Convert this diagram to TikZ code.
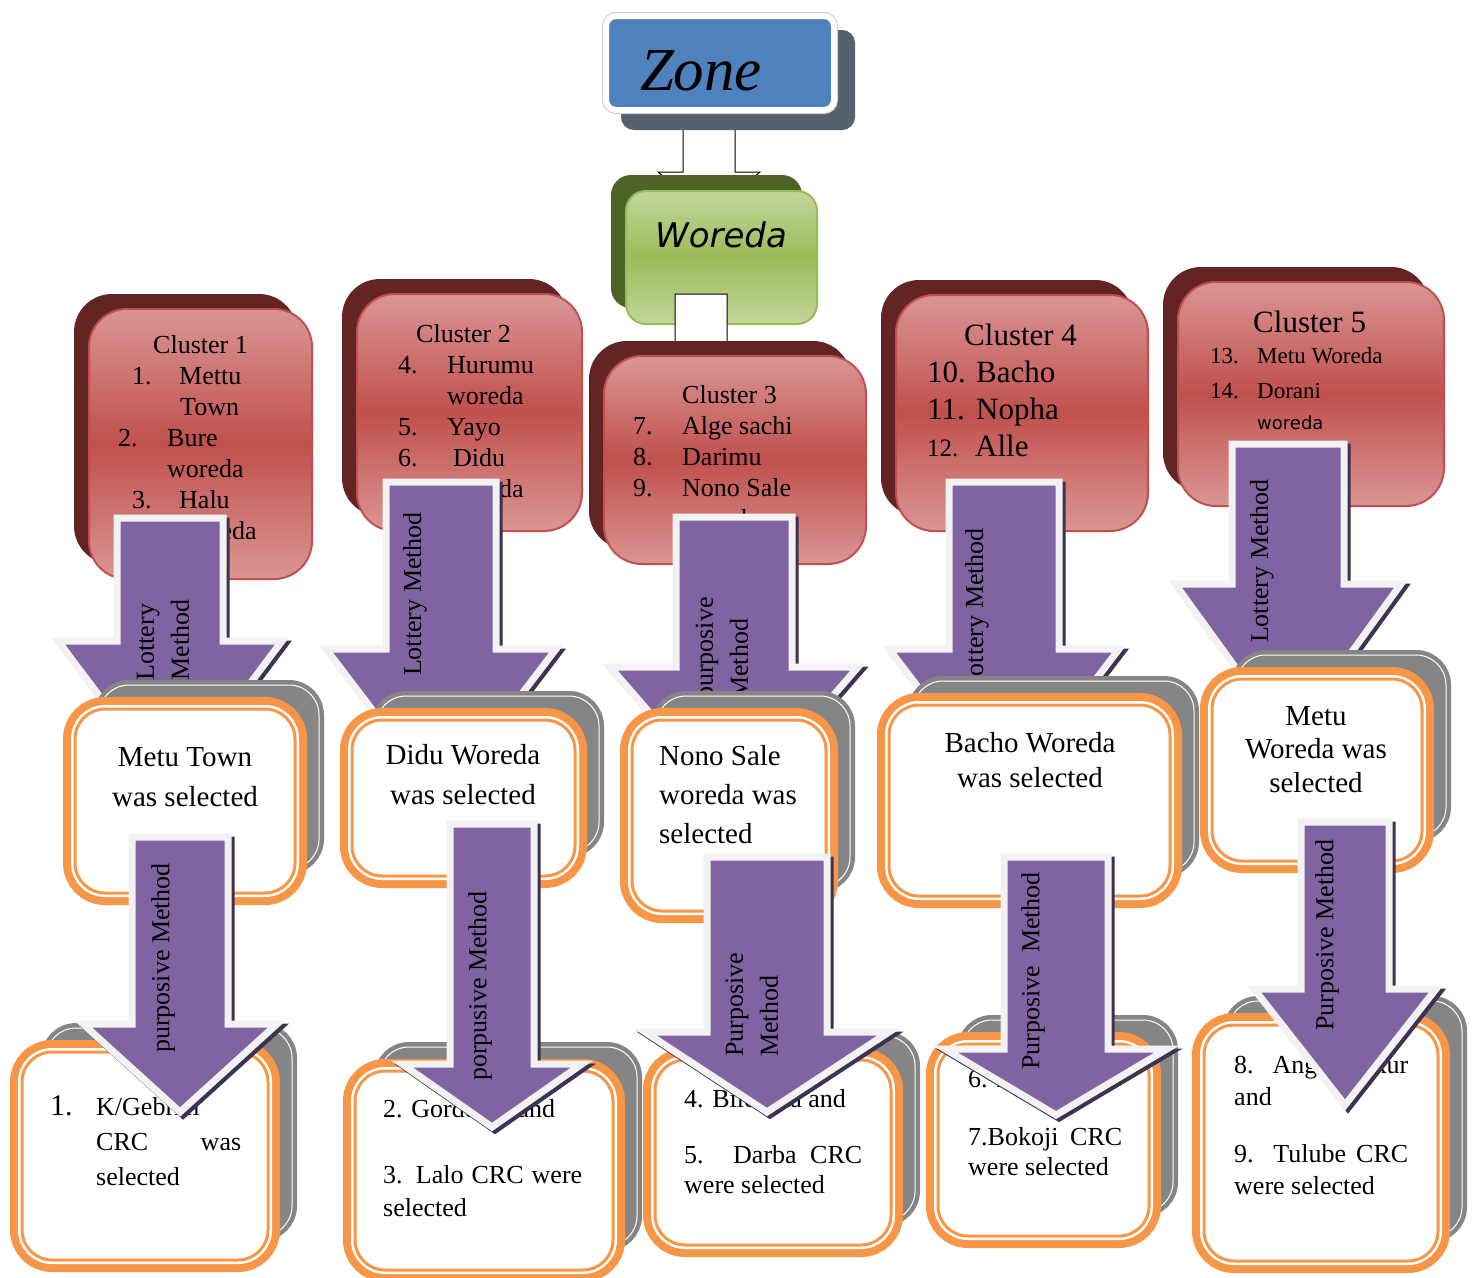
\documentclass[tikz,border=0pt]{standalone}
\usepackage{fontspec}
\setmainfont{Liberation Serif}
\newfontfamily\woredafont{DejaVu Sans}
\usepackage{tikz}
\usetikzlibrary{positioning}
\hyphenpenalty=10000
\exhyphenpenalty=10000
\definecolor{zoneblue}{HTML}{4F81BD}
\definecolor{zonedark}{HTML}{56606F}
\definecolor{woredalight}{HTML}{C3D69B}
\definecolor{woredamid}{HTML}{9BBB59}
\definecolor{woredadark}{HTML}{4F6228}
\definecolor{cluslight}{HTML}{DA9694}
\definecolor{clusmid}{HTML}{C0504D}
\definecolor{clusdark}{HTML}{632523}
\definecolor{pickline}{HTML}{F79646}
\definecolor{pickshadow}{HTML}{858585}
\definecolor{methfill}{HTML}{8064A2}
\definecolor{methdark}{HTML}{3F3151}
\definecolor{methedge}{HTML}{F2F2F2}
\tikzstyle{zone}  = [
    rectangle,
    rounded corners=10pt,
    fill=zoneblue,
    draw=white,
    line width=6pt,
    inner sep=0pt,
    preaction={fill=zonedark, draw=zonedark, line width=6pt,
               transform canvas={shift={(18pt,-17pt)}}},
    preaction={draw=black!20, line width=8pt}
]
\tikzstyle{woreda}  = [
    rectangle,
    rounded corners=20pt,
    draw=woredamid,
    line width=2pt,
    top color=woredalight,
    bottom color=woredalight,
    middle color=woredamid,
    inner sep=0pt,
    preaction={fill=woredadark, transform canvas={shift={(-15pt,16pt)}}}
]
\tikzstyle{clus}  = [
    rectangle,
    rounded corners=38pt,
    draw=clusmid,
    line width=2pt,
    top color=cluslight,
    bottom color=cluslight,
    middle color=clusmid,
    inner sep=0pt,
    preaction={fill=clusdark, transform canvas={shift={(-15pt,15pt)}}}
]
\tikzstyle{pick}  = [
    rectangle,
    rounded corners=30pt,
    fill=white,
    draw=pickline,
    line width=3pt,
    inner sep=0pt,
    preaction={fill=pickshadow, draw=pickshadow, line width=10pt,
               transform canvas={shift={(24pt,24pt)}}},
    preaction={draw=white, line width=1pt,
               transform canvas={shift={(24pt,24pt)}}},
    preaction={draw=pickline, line width=24pt},
    preaction={draw=white, line width=8pt}
]
\tikzstyle{link}  = [
    fill=white,
    draw=black,
    line width=1pt
]
\tikzstyle{meth}  = [
    fill=methfill,
    draw=methedge,
    line width=7pt,
    preaction={fill=methdark, draw=methdark, line width=7pt,
               transform canvas={shift={(3pt,-3pt)}}}
]
\tikzstyle{methtext}  = [
    rotate=90,
    inner sep=0pt,
    align=left,
    font=\fontsize{26}{35}\selectfont
]
\tikzstyle{txt}  = [
    inner sep=0pt,
    anchor=base west
]
\newcommand{\blockarrow}[7]{%
  \path[#1] ({#2-#6},#3) -- ({#2+#6},#3) -- ({#2+#6},#4) -- ({#2+#7},#4)
    -- (#2,#5) -- ({#2-#7},#4) -- ({#2-#6},#4) -- cycle;}
\newcommand{\lnum}[2]{\makebox[#1][l]{#2}}

\begin{document}
\begin{tikzpicture}[x = 1pt, y = -1pt]
\path[use as bounding box, fill=white] (0,0) rectangle (1472,1277);

\blockarrow{link}{709}{125}{172}{215}{26}{51}
\node[zone, minimum width=228pt, minimum height=94pt] (zone) at (720,63) {};
\node[anchor=base, font=\fontsize{61}{61}\selectfont\itshape] (zonet) at (701,90) {Zone};

\node[woreda, minimum width=191pt, minimum height=133pt] (wor) at (721.5,257.5) {};
\node[anchor=base, font=\woredafont\itshape\fontsize{34}{34}\selectfont] (wort) at (721,247) {Woreda};
\blockarrow{link}{701}{294}{350}{390}{26}{50}

\node[clus, minimum width=223pt, minimum height=270pt] (c1) at (200.5,444) {};
\node[clus, minimum width=225pt, minimum height=237pt] (c2) at (469.5,412.5) {};
\node[clus, minimum width=262pt, minimum height=208pt] (c3) at (735,460) {};
\node[clus, minimum width=252pt, minimum height=236pt] (c4) at (1022,413) {};
\node[clus, minimum width=266pt, minimum height=224pt] (c5) at (1311,394) {};

\node[txt, font=\fontsize{26}{31}\selectfont] (c1t) at (118,353) {%
  \begin{tabular}[t]{@{}l@{}}
  \hspace*{35pt}Cluster 1\\
  \hspace*{14pt}\lnum{47pt}{1.}Mettu\\
  \hspace*{62pt}Town\\
  \lnum{49pt}{2.}Bure\\
  \hspace*{49pt}woreda\\
  \hspace*{14pt}\lnum{47pt}{3.}Halu\\
  \hspace*{62pt}woreda
  \end{tabular}};
\node[txt, font=\fontsize{26}{31}\selectfont] (c2t) at (398,342) {%
  \begin{tabular}[t]{@{}l@{}}
  \hspace*{18pt}Cluster 2\\
  \lnum{49pt}{4.}Hurumu\\
  \hspace*{49pt}woreda\\
  \lnum{49pt}{5.}Yayo\\
  \lnum{55pt}{6.}Didu\\
  \hspace*{49pt}woreda
  \end{tabular}};
\node[txt, font=\fontsize{26}{31}\selectfont] (c3t) at (633,403) {%
  \begin{tabular}[t]{@{}l@{}}
  \hspace*{49pt}Cluster 3\\
  \lnum{49pt}{7.}Alge sachi\\
  \lnum{49pt}{8.}Darimu\\
  \lnum{49pt}{9.}Nono Sale\\
  \hspace*{49pt}woreda
  \end{tabular}};
\node[txt, font=\fontsize{31}{37}\selectfont] (c4t) at (927,345) {%
  \begin{tabular}[t]{@{}l@{}}
  \hspace*{37pt}Cluster 4\\
  \lnum{49pt}{10.}Bacho\\
  \lnum{49pt}{11.}Nopha\\
  \lnum{48pt}{\fontsize{25}{37}\selectfont 12.}Alle
  \end{tabular}};
\node[txt, font=\fontsize{23}{33}\selectfont] (c5t) at (1210,332) {%
  \begin{tabular}[t]{@{}l@{}}
  \hspace*{43pt}{\fontsize{31}{33}\selectfont Cluster 5}\\[-2pt]
  \lnum{47pt}{13.}Metu Woreda\\[2pt]
  \lnum{47pt}{14.}Dorani\\[-2pt]
  \hspace*{47pt}{\woredafont\fontsize{18}{33}\selectfont woreda}
  \end{tabular}};

\blockarrow{meth}{170}{518}{641}{790}{53}{112}
\blockarrow{meth}{441}{482}{649}{800}{55}{115}
\blockarrow{meth}{734}{517}{667}{810}{58}{124}
\blockarrow{meth}{1004}{482}{649}{800}{55}{115}
\blockarrow{meth}{1288}{444}{584}{740}{56}{113}
\node[methtext] (a1t) at (163,640) {Lottery\\Method};
\node[methtext] (a2t) at (415,594) {Lottery Method};
\node[methtext, anchor=west] (a3t) at (722,700) {purposive\\Method};
\node[methtext] (a4t) at (977,610) {Lottery Method};
\node[methtext] (a5t) at (1262,561) {Lottery Method};

\node[pick, minimum width=220pt, minimum height=184pt] (m1) at (185,801) {};
\node[pick, minimum width=223pt, minimum height=156pt] (m2) at (463.5,798) {};
\node[pick, minimum width=194pt, minimum height=191pt] (m3) at (729,815.5) {};
\node[pick, minimum width=281pt, minimum height=191pt] (m4) at (1029.5,800.5) {};
\node[pick, minimum width=210pt, minimum height=182pt] (m5) at (1317,770) {};
\node[txt, anchor=base, font=\fontsize{29}{40}\selectfont] (m1t) at (185,766)
  {\begin{tabular}[t]{@{}c@{}}Metu Town\\was selected\end{tabular}};
\node[txt, anchor=base, font=\fontsize{29}{40}\selectfont] (m2t) at (463,764)
  {\begin{tabular}[t]{@{}c@{}}Didu Woreda\\was selected\end{tabular}};
\node[txt, font=\fontsize{29}{39}\selectfont] (m3t) at (659,765)
  {\begin{tabular}[t]{@{}l@{}}Nono Sale\\woreda was\\selected\end{tabular}};
\node[txt, anchor=base, font=\fontsize{29}{35}\selectfont] (m4t) at (1030,752)
  {\begin{tabular}[t]{@{}c@{}}Bacho Woreda\\was selected\end{tabular}};
\node[txt, anchor=base, font=\fontsize{29}{33.5}\selectfont] (m5t) at (1316,725)
  {\begin{tabular}[t]{@{}c@{}}Metu\\Woreda was\\selected\end{tabular}};

\node[pick, minimum width=246pt, minimum height=208pt] (r1) at (145,1156) {};
\node[pick, minimum width=258pt, minimum height=199pt] (r2) at (484,1170.5) {};
\node[pick, minimum width=236pt, minimum height=185pt] (r3) at (773,1152.5) {};
\node[pick, minimum width=211pt, minimum height=192pt] (r4) at (1043.5,1140) {};
\node[pick, minimum width=234pt, minimum height=236pt] (r5) at (1321,1143) {};
\node[txt, font=\fontsize{26}{35}\selectfont] (r1t) at (50,1115)
  {\begin{tabular}[t]{@{}p{46pt}@{}p{145pt}@{}}{\fontsize{30}{35}\selectfont 1.} &
   K/Gebriel CRC was selected\end{tabular}};
\node[txt, font=\fontsize{26}{33}\selectfont] (r2t) at (383,1117)
  {\begin{tabular}[t]{@{}p{199pt}@{}}2. Gordomo and\\[33pt]
   3. Lalo CRC were selected\end{tabular}};
\node[txt, font=\fontsize{26}{30}\selectfont] (r3t) at (684,1107)
  {\begin{tabular}[t]{@{}p{178pt}@{}}4. Bilobota and\\[26pt]
   5. Darba CRC were selected\end{tabular}};
\node[txt, font=\fontsize{26}{30}\selectfont] (r4t) at (968,1087)
  {\begin{tabular}[t]{@{}p{154pt}@{}}6. Bure and\\[28pt]
   7.Bokoji CRC were selected\end{tabular}};
\node[txt, font=\fontsize{26}{32}\selectfont] (r5t) at (1234,1073)
  {\begin{tabular}[t]{@{}p{174pt}@{}}8. Angar Sekur and\\[25pt]
   9. Tulube CRC were selected\end{tabular}};

\blockarrow{meth}{180}{837}{1024}{1112}{48}{97}
\blockarrow{meth}{492}{824}{1064}{1127}{42}{90}
\blockarrow{meth}{767}{857}{1032}{1112}{60}{122}
\blockarrow{meth}{1056}{857}{1049}{1115}{52}{111}
\blockarrow{meth}{1345}{822}{989}{1105}{44}{91}
\node[methtext] (b1t) at (163,958) {purposive Method};
\node[methtext] (b2t) at (480,986) {porpusive Method};
\node[methtext, anchor=west] (b3t) at (752,1057) {Purposive\\Method};
\node[methtext] (b4t) at (1033,971) {Purposive\ \ Method};
\node[methtext] (b5t) at (1327,935) {Purposive Method};

\end{tikzpicture}
\end{document}
